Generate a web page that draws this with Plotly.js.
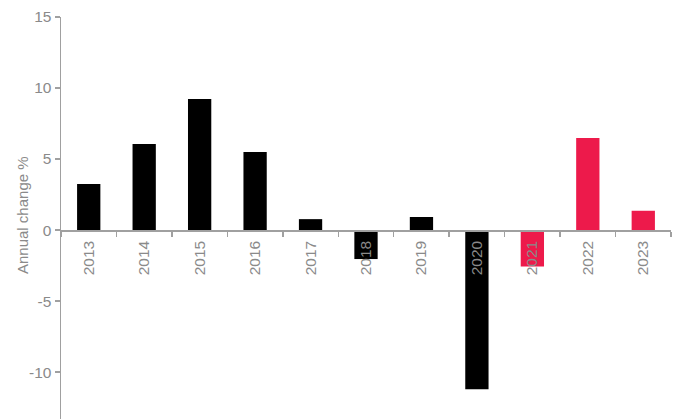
<!DOCTYPE html>
<html>
<head>
<meta charset="utf-8">
<script src="https://cdn.plot.ly/plotly-3.0.1.min.js"></script>
<style>html,body{margin:0;padding:0;background:#fff;}#chart{width:676px;height:419px;}</style>
</head>
<body>
<div id="chart"></div>
<script>
var years = ['2013','2014','2015','2016','2017','2018','2019','2020','2021','2022','2023'];
var changes = [3.24, 6.06, 9.23, 5.49, 0.77, -2.04, 0.92, -11.2, -2.56, 6.48, 1.36];
var forecastFrom = '2021';
var colorActual = '#000000';
var colorForecast = '#ED1A4B';
var yTicks = [-10, -5, 0, 5, 10, 15];
var yTitle = 'Annual change %';

var colors = years.map(function(y){ return y >= forecastFrom ? colorForecast : colorActual; });
var yMin = -13.3, yMax = 15;
var textGray = '#8a8a8a';
var lineGray = '#a0a0a0';
var font = {family: 'Liberation Sans, Arial, sans-serif', size: 15.5, color: textGray};
var titleFont = {family: 'Liberation Sans, Arial, sans-serif', size: 15, color: textGray};

var trace = {
  type: 'bar',
  x: years,
  y: changes,
  marker: {color: colors, line: {width: 0}},
  hoverinfo: 'x+y'
};

var layout = {
  width: 676, height: 419,
  margin: {l: 61, r: 5, t: 17, b: 0, pad: 0},
  paper_bgcolor: '#fff', plot_bgcolor: '#fff',
  showlegend: false,
  bargap: 0.58,
  font: font,
  xaxis: {
    type: 'category',
    anchor: 'free',
    position: (0 - yMin) / (yMax - yMin),
    showline: true, linecolor: lineGray, linewidth: 1.5,
    showgrid: false, zeroline: false,
    ticks: 'outside', tickson: 'boundaries', ticklen: 5, tickcolor: lineGray, tickwidth: 1.5,
    tickangle: -90,
    ticklabelstandoff: 3,
    tickfont: font
  },
  yaxis: {
    range: [yMin, yMax],
    tickvals: yTicks,
    ticktext: yTicks.map(String),
    showline: true, linecolor: lineGray, linewidth: 1.5,
    showgrid: false, zeroline: false,
    ticks: 'outside', ticklen: 5, tickcolor: lineGray, tickwidth: 1.5,
    tickfont: font
  },
  annotations: [{
    text: yTitle,
    xref: 'paper', yref: 'paper',
    x: (22 - 61) / 610, y: (402 - (215 - 17)) / 402,
    xanchor: 'center', yanchor: 'middle',
    textangle: -90,
    showarrow: false,
    font: titleFont
  }]
};

Plotly.newPlot('chart', [trace], layout, {displayModeBar: false, staticPlot: true});
</script>
</body>
</html>
